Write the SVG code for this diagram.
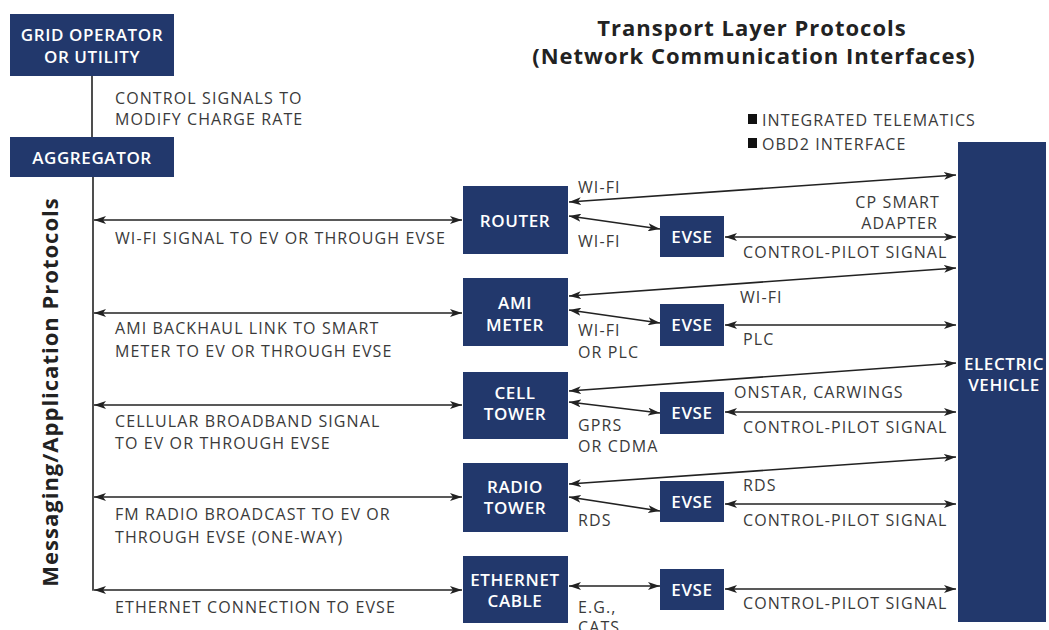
<svg xmlns="http://www.w3.org/2000/svg" width="1049" height="630" viewBox="0 0 1049 630">
<defs>
<marker id="ah" viewBox="0 0 12 8" refX="12" refY="4" markerWidth="12" markerHeight="8" markerUnits="userSpaceOnUse" orient="auto-start-reverse">
<path d="M0,0 L12,4 L0,8 L3,4 Z" fill="#222"/>
</marker>
</defs>
<style>
.box{fill:#22386c}
.bt{font-family:"Open Sans","Liberation Sans",sans-serif;font-weight:600;font-size:17px;letter-spacing:0.6px;fill:#fff;text-anchor:middle}
.lb{font-family:"Open Sans","Liberation Sans",sans-serif;font-size:16px;letter-spacing:1.1px;fill:#3a3a3a}
.ttl{font-family:"Open Sans","Liberation Sans",sans-serif;font-weight:700;font-size:22px;letter-spacing:1px;fill:#222;text-anchor:middle}
.ln{stroke:#222;stroke-width:1.6;fill:none}
.a2{stroke:#222;stroke-width:1.6;fill:none;marker-start:url(#ah);marker-end:url(#ah)}
</style>
<rect width="1049" height="630" fill="#fff"/>
<text class="ttl" x="752" y="36">Transport Layer Protocols</text>
<text class="ttl" x="754" y="64">(Network Communication Interfaces)</text>
<text class="ttl" transform="translate(58,392) rotate(-90)">Messaging/Application Protocols</text>
<g id="connectors">
<line class="ln" x1="92" y1="76" x2="92" y2="137"/>
<line class="ln" x1="93" y1="177" x2="93" y2="590.8"/>
<line class="a2" x1="94" y1="220" x2="462" y2="220"/>
<line class="a2" x1="94" y1="313" x2="462" y2="313"/>
<line class="a2" x1="94" y1="405" x2="462" y2="405"/>
<line class="a2" x1="94" y1="497" x2="462" y2="497"/>
<line class="a2" x1="94" y1="590" x2="462" y2="590"/>
<line class="a2" x1="569" y1="202" x2="956" y2="175"/>
<line class="a2" x1="569" y1="216" x2="660" y2="229"/>
<line class="a2" x1="725" y1="237" x2="956" y2="237"/>
<line class="a2" x1="569" y1="296" x2="956" y2="268"/>
<line class="a2" x1="569" y1="310" x2="660" y2="323"/>
<line class="a2" x1="725" y1="325" x2="956" y2="325"/>
<line class="a2" x1="569" y1="391" x2="956" y2="363"/>
<line class="a2" x1="569" y1="402" x2="660" y2="413"/>
<line class="a2" x1="725" y1="412" x2="956" y2="412"/>
<line class="a2" x1="569" y1="484" x2="956" y2="457"/>
<line class="a2" x1="569" y1="497" x2="660" y2="511"/>
<line class="a2" x1="725" y1="504" x2="956" y2="504"/>
<line class="a2" x1="569" y1="586" x2="660" y2="586"/>
<line class="a2" x1="725" y1="589" x2="956" y2="589"/>
</g>
<g id="grid"><rect class="box" x="10" y="14" width="164" height="62"/><text class="bt" x="92" y="41">GRID OPERATOR</text><text class="bt" x="92" y="63">OR UTILITY</text></g>
<g id="aggregator"><rect class="box" x="10" y="137" width="164" height="40"/><text class="bt" x="92" y="164">AGGREGATOR</text></g>
<g id="router"><rect class="box" x="463" y="186" width="105" height="68"/><text class="bt" x="515" y="227">ROUTER</text></g>
<g id="ami"><rect class="box" x="463" y="278" width="105" height="68"/><text class="bt" x="515" y="309">AMI</text><text class="bt" x="515" y="331">METER</text></g>
<g id="cell"><rect class="box" x="463" y="372" width="105" height="67"/><text class="bt" x="515" y="399">CELL</text><text class="bt" x="515" y="420">TOWER</text></g>
<g id="radio"><rect class="box" x="463" y="463" width="105" height="69"/><text class="bt" x="515" y="493">RADIO</text><text class="bt" x="515" y="514">TOWER</text></g>
<g id="ethernet"><rect class="box" x="463" y="556" width="105" height="67"/><text class="bt" x="515" y="586">ETHERNET</text><text class="bt" x="515" y="607">CABLE</text></g>
<g id="evse1"><rect class="box" x="660" y="216" width="64" height="41"/><text class="bt" x="692" y="243">EVSE</text></g>
<g id="evse2"><rect class="box" x="660" y="304" width="64" height="42"/><text class="bt" x="692" y="331">EVSE</text></g>
<g id="evse3"><rect class="box" x="660" y="392" width="64" height="42"/><text class="bt" x="692" y="419">EVSE</text></g>
<g id="evse4"><rect class="box" x="660" y="481" width="64" height="41"/><text class="bt" x="692" y="508">EVSE</text></g>
<g id="evse5"><rect class="box" x="660" y="569" width="64" height="41"/><text class="bt" x="692" y="596">EVSE</text></g>
<g id="ev"><rect class="box" x="958" y="142" width="88" height="480"/><text class="bt" x="1004" y="370">ELECTRIC</text><text class="bt" x="1004" y="391">VEHICLE</text></g>
<g id="labels">
<text class="lb" x="115" y="104">CONTROL SIGNALS TO</text>
<text class="lb" x="115" y="125">MODIFY CHARGE RATE</text>
<text class="lb" x="115" y="244">WI-FI SIGNAL TO EV OR THROUGH EVSE</text>
<text class="lb" x="115" y="334">AMI BACKHAUL LINK TO SMART</text>
<text class="lb" x="115" y="357">METER TO EV OR THROUGH EVSE</text>
<text class="lb" x="115" y="427">CELLULAR BROADBAND SIGNAL</text>
<text class="lb" x="115" y="449">TO EV OR THROUGH EVSE</text>
<text class="lb" x="115" y="520">FM RADIO BROADCAST TO EV OR</text>
<text class="lb" x="115" y="543">THROUGH EVSE (ONE-WAY)</text>
<text class="lb" x="115" y="613">ETHERNET CONNECTION TO EVSE</text>
<rect x="748" y="114" width="9" height="10" fill="#111"/>
<text class="lb" x="762" y="126">INTEGRATED TELEMATICS</text>
<rect x="748" y="138" width="9" height="10" fill="#111"/>
<text class="lb" x="762" y="150">OBD2 INTERFACE</text>
<text class="lb" x="578" y="193">WI-FI</text>
<text class="lb" x="578" y="247">WI-FI</text>
<text class="lb" x="940" y="208" text-anchor="end">CP SMART</text>
<text class="lb" x="938" y="229" text-anchor="end">ADAPTER</text>
<text class="lb" x="743" y="258">CONTROL-PILOT SIGNAL</text>
<text class="lb" x="740" y="303">WI-FI</text>
<text class="lb" x="743" y="345">PLC</text>
<text class="lb" x="578" y="336">WI-FI</text>
<text class="lb" x="578" y="358">OR PLC</text>
<text class="lb" x="734" y="398">ONSTAR, CARWINGS</text>
<text class="lb" x="743" y="433">CONTROL-PILOT SIGNAL</text>
<text class="lb" x="578" y="431">GPRS</text>
<text class="lb" x="578" y="452">OR CDMA</text>
<text class="lb" x="743" y="491">RDS</text>
<text class="lb" x="743" y="526">CONTROL-PILOT SIGNAL</text>
<text class="lb" x="578" y="526">RDS</text>
<text class="lb" x="578" y="613">E.G.,</text>
<text class="lb" x="578" y="633">CATS</text>
<text class="lb" x="743" y="609">CONTROL-PILOT SIGNAL</text>
</g>
</svg>
